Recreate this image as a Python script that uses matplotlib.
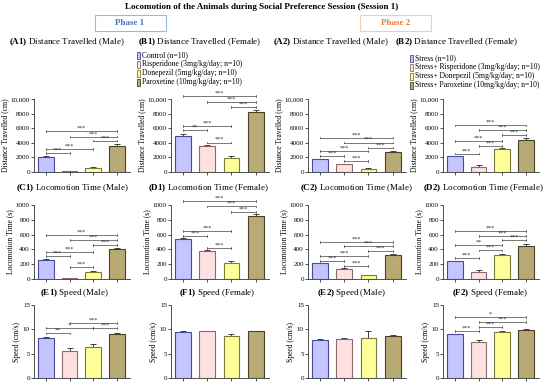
import matplotlib
matplotlib.use('Agg')
import matplotlib.pyplot as plt
from matplotlib.patches import Rectangle

plt.rcParams['font.family'] = ['Liberation Serif', 'DejaVu Serif']
plt.rcParams['mathtext.fontset'] = 'custom'
plt.rcParams['mathtext.rm'] = 'Liberation Serif'
plt.rcParams['mathtext.bf'] = 'Liberation Serif:bold'

# groups / legends
legend_phase1 = ['Control (n=10)', 'Risperidone (3mg/kg/day; n=10)',
                 'Donepezil (5mg/kg/day; n=10)', 'Paroxetine (10mg/kg/day; n=10)']
legend_phase2 = ['Stress (n=10)', 'Stress+ Risperidone (3mg/kg/day; n=10)',
                 'Stress+ Donepezil (5mg/kg/day; n=10)', 'Stress+ Paroxetine (10mg/kg/day; n=10)']
bar_colors = ['#c4c4ff', '#ffe0e0', '#ffff99', '#b8aa74']
edge_colors = ['#4a4a9a', '#8a6a6a', '#7a7a3a', '#4a4228']

# distance travelled (cm)
dist_m1 = [2100, 80, 600, 3600]
dist_m1_err = [150, 30, 80, 250]
dist_f1 = [5000, 3600, 1900, 8200]
dist_f1_err = [200, 60, 250, 350]
dist_m2 = [1720, 1050, 450, 2750]
dist_m2_err = [100, 80, 60, 100]
dist_f2 = [2150, 750, 3150, 4450]
dist_f2_err = [80, 150, 100, 150]

# locomotion time (s)
time_m1 = [260, 15, 100, 400]
time_m1_err = [10, 5, 8, 20]
time_f1 = [540, 380, 215, 850]
time_f1_err = [20, 8, 30, 30]
time_m2 = [210, 135, 50, 330]
time_m2_err = [10, 8, 8, 12]
time_f2 = [240, 90, 325, 450]
time_f2_err = [10, 25, 10, 25]

# speed (cm/s)
speed_m1 = [8.3, 5.6, 6.4, 9.0]
speed_m1_err = [0.2, 0.5, 0.6, 0.3]
speed_f1 = [9.5, 9.6, 8.6, 9.6]
speed_f1_err = [0.15, 0.1, 0.5, 0.1]
speed_m2 = [7.9, 8.1, 8.3, 8.6]
speed_m2_err = [0.1, 0.1, 1.4, 0.3]
speed_f2 = [9.0, 7.5, 9.5, 9.9]
speed_f2_err = [0.1, 0.4, 0.15, 0.1]

# significance brackets: (group i, group j, height, label)
sig_dist_m1 = [(0, 3, 5600, '***'), (1, 3, 4860, '***'), (2, 3, 4300, '***'),
               (0, 2, 3200, '***'), (0, 1, 2600, '***')]
sig_dist_f1 = [(0, 3, 10400, '***'), (1, 3, 9630, '***'), (2, 3, 8940, '***'),
               (0, 2, 6280, '***'), (0, 1, 5730, '**'), (1, 2, 4040, '***')]
sig_dist_m2 = [(0, 3, 4720, '***'), (1, 3, 4040, '***'), (2, 3, 3350, '***'),
               (0, 2, 2840, '***'), (0, 1, 2160, '***'), (1, 2, 1510, '***')]
sig_dist_f2 = [(0, 3, 6380, '***'), (1, 3, 5730, '***'), (2, 3, 5050, '***'),
               (0, 2, 4270, '***'), (1, 2, 3530, '***'), (0, 1, 2520, '***')]
sig_time_m1 = [(0, 3, 590, '***'), (1, 3, 530, '***'), (2, 3, 460, '***'),
               (0, 2, 370, '***'), (0, 1, 310, '***'), (1, 2, 160, '***')]
sig_time_f1 = [(0, 3, 1050, '***'), (1, 3, 980, '***'), (2, 3, 910, '***'),
               (0, 2, 653, '***'), (0, 1, 584, '***'), (1, 2, 422, '***')]
sig_time_m2 = [(0, 3, 505, '***'), (1, 3, 445, '***'), (2, 3, 376, '***'),
               (0, 2, 316, '***'), (0, 1, 246, '***'), (1, 2, 175, '***')]
sig_time_f2 = [(0, 3, 644, '***'), (1, 3, 580, '***'), (2, 3, 524, '***'),
               (0, 2, 455, '**'), (1, 2, 386, '***'), (0, 1, 283, '***')]
sig_speed_m1 = [(1, 3, 11.36, '***'), (0, 2, 10.2, '*'), (2, 3, 10.2, '***'),
                (0, 1, 9.15, '**')]
sig_speed_f1 = []
sig_speed_m2 = []
sig_speed_f2 = [(0, 3, 12.46, '*'), (1, 3, 11.56, '***'), (1, 2, 10.5, '***'),
                (0, 1, 9.7, '***')]

W, H = 550, 384
fig = plt.figure(figsize=(W / 100, H / 100), dpi=100)


def fx(px):
    return px / W


def fy(py):
    return 1 - py / H


measure = {
    'dist': ((0, 10000), [0, 2000, 4000, 6000, 8000, 10000],
             ['0', '2000', '4000', '6000', '8000', '10,000'], 'Distance Travelled (cm)'),
    'time': ((0, 1000), [0, 200, 400, 600, 800, 1000],
             ['0', '200', '400', '600', '800', '1000'], 'Locomotion Time (s)'),
    'speed': ((0, 15), [0, 5, 10, 15], ['0', '5', '10', '15'], 'Speed (cm/s)'),
}

col_x = [(34, 130), (171, 269), (308, 406), (443, 539)]
row_y = [(99, 172), (205, 279), (305, 378)]

panels = [
    (0, 0, 'dist', dist_m1, dist_m1_err, sig_dist_m1, '(A1)', 'Distance Travelled (Male)', 67, 42),
    (0, 1, 'dist', dist_f1, dist_f1_err, sig_dist_f1, '(B1)', 'Distance Travelled (Female)', 200, 42),
    (0, 2, 'dist', dist_m2, dist_m2_err, sig_dist_m2, '(A2)', 'Distance Travelled (Male)', 331, 42),
    (0, 3, 'dist', dist_f2, dist_f2_err, sig_dist_f2, '(B2)', 'Distance Travelled (Female)', 457, 42),
    (1, 0, 'time', time_m1, time_m1_err, sig_time_m1, '(C1)', 'Locomotion Time (Male)', 72, 188),
    (1, 1, 'time', time_f1, time_f1_err, sig_time_f1, '(D1)', 'Locomotion Time (Female)', 208, 188),
    (1, 2, 'time', time_m2, time_m2_err, sig_time_m2, '(C2)', 'Locomotion Time (Male)', 356, 188),
    (1, 3, 'time', time_f2, time_f2_err, sig_time_f2, '(D2)', 'Locomotion Time (Female)', 483, 188),
    (2, 0, 'speed', speed_m1, speed_m1_err, sig_speed_m1, '(E1)', 'Speed (Male)', 75, 293),
    (2, 1, 'speed', speed_f1, speed_f1_err, sig_speed_f1, '(F1)', 'Speed (Female)', 217, 293),
    (2, 2, 'speed', speed_m2, speed_m2_err, sig_speed_m2, '(E2)', 'Speed (Male)', 352, 293),
    (2, 3, 'speed', speed_f2, speed_f2_err, sig_speed_f2, '(F2)', 'Speed (Female)', 490, 293),
]

xs = [0, 1, 2, 3]
for r, c, kind, vals, errs, sigs, code, name, tx, ty in panels:
    x0, x1 = col_x[c]
    y0, y1 = row_y[r]
    ax = fig.add_axes([fx(x0), fy(y1), fx(x1) - fx(x0), (y1 - y0) / H])
    ylim, ticks, ticklabels, ylabel = measure[kind]
    ax.bar(xs, vals, width=0.66, color=bar_colors, edgecolor=edge_colors, linewidth=0.8, zorder=2)
    ax.errorbar(xs, vals, yerr=[[0] * 4, errs], fmt='none', ecolor='#222222',
                elinewidth=0.6, capsize=2, capthick=0.6, zorder=1)
    ax.set_xlim(-0.5, 3.55)
    ax.set_ylim(*ylim)
    ax.set_xticks(xs)
    ax.set_xticklabels([])
    ax.set_yticks(ticks)
    ax.set_yticklabels(ticklabels)
    ax.tick_params(axis='both', length=2, width=0.6, labelsize=5, pad=1, color='#333333')
    ax.set_ylabel(ylabel, fontsize=5.5, labelpad=1)
    for s in ['top', 'right']:
        ax.spines[s].set_visible(False)
    for s in ['left', 'bottom']:
        ax.spines[s].set_linewidth(0.6)
        ax.spines[s].set_color('#333333')
    d = ylim[1] * 0.012
    for i, j, h, lab in sigs:
        ax.plot([i, j], [h, h], color='#444444', lw=0.5, clip_on=False)
        ax.plot([i, i], [h - d, h + d], color='#444444', lw=0.5, clip_on=False)
        ax.plot([j, j], [h - d, h + d], color='#444444', lw=0.5, clip_on=False)
        ax.text((i + j) / 2, h + ylim[1] * 0.005, lab, fontsize=4.5, ha='center', va='bottom',
                color='#333333', clip_on=False)
    fig.text(fx(tx), fy(ty), r'$\mathbf{' + code + '}$ ' + name, fontsize=6.5,
             ha='center', va='center')

# main title and phase boxes
fig.text(fx(262), fy(7), 'Locomotion of the Animals during Social Preference Session (Session 1)',
         fontsize=6.5, fontweight='bold', ha='center', va='center')
fig.patches.append(Rectangle((fx(95), fy(31)), fx(166) - fx(95), (31 - 15) / H,
                             transform=fig.transFigure, fill=False, edgecolor='#9db5e8', lw=0.8))
fig.text(fx(130), fy(23), 'Phase 1', fontsize=6.5, fontweight='bold', color='#4472c4',
         ha='center', va='center')
fig.patches.append(Rectangle((fx(360), fy(31)), fx(431) - fx(360), (31 - 15) / H,
                             transform=fig.transFigure, fill=False, edgecolor='#f8cbad', lw=0.8))
fig.text(fx(396), fy(23), 'Phase 2', fontsize=6.5, fontweight='bold', color='#ed7d31',
         ha='center', va='center')

# legends
for labels, lx, ly0 in [(legend_phase1, 137, 55), (legend_phase2, 410, 58)]:
    for k, lab in enumerate(labels):
        yy = ly0 + k * 9
        fig.patches.append(Rectangle((fx(lx), fy(yy + 3.5)), 3 / W, 7 / H, transform=fig.transFigure,
                                     facecolor=bar_colors[k], edgecolor=edge_colors[k], lw=0.6))
        fig.text(fx(lx + 5), fy(yy), lab, fontsize=5.5, ha='left', va='center')

fig.savefig('out.png', dpi=100)
